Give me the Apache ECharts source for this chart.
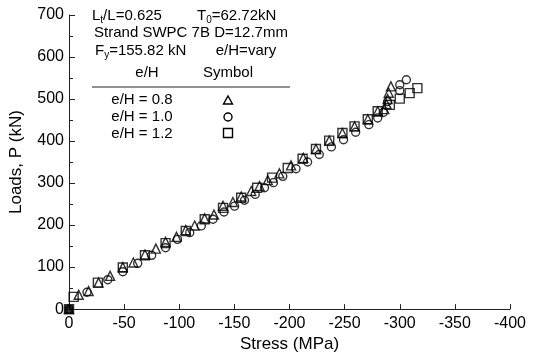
<!DOCTYPE html>
<html><head><meta charset="utf-8">
<script src="https://cdn.jsdelivr.net/npm/echarts@6/dist/echarts.min.js"></script>
<style>html,body{margin:0;padding:0;background:#fff}#c{width:533px;height:358px}</style>
</head><body><div id="c"></div>
<script>
const xTicks = [0, -50, -100, -150, -200, -250, -300, -350, -400];
const yTicks = [0, 100, 200, 300, 400, 500, 600, 700];

const triStress = [0, -8.8, -17.8, -26.8, -37.3, -48.8, -58.4, -68.9, -78.8, -87.6, -97.5, -105.9, -114, -123, -131.5, -139.7, -148.7, -156.2, -165.3, -172.8, -180.3, -190.8, -201.4, -212.5, -224, -236, -248, -259, -271, -280, -286, -288, -289, -290, -292];
const triLoad   = [0, 34, 43, 63, 79, 100, 111, 130, 144, 160, 172, 188, 199, 216, 225, 246, 255, 268, 281, 293, 307, 323, 342, 360, 381, 401, 419, 435, 452, 471, 476, 488, 500, 515, 530];

const cirStress = [0, -16.3, -35.2, -48.8, -62.3, -75, -87.6, -98.4, -109.5, -120, -130.6, -140.6, -150.2, -159.2, -168.9, -177.3, -185.4, -193.9, -205.9, -216.4, -227, -238, -249, -260, -272, -280, -285, -289, -300, -300, -306];
const cirLoad   = [0, 40, 70, 89, 109, 128, 146, 166, 182, 198, 214, 231, 245, 259, 273, 289, 301, 316, 334, 350, 368, 386, 403, 421, 439, 455, 468, 494, 520, 534, 546];

const sqrStress = [0, -4.2, -26.2, -48.8, -68.9, -87.6, -105.9, -123.1, -139.7, -156.2, -170.7, -184.2, -198.4, -211.9, -224, -236, -248, -259, -271, -280, -291, -300, -309, -316];
const sqrLoad   = [0, 29, 63, 99, 128, 157, 186, 214, 241, 265, 289, 313, 336, 358, 381, 401, 419, 435, 452, 471, 486, 501, 514, 526];

const originPoint = [[0, 0]];

const zip = (a, b) => a.map((v, i) => [v, b[i]]);
const F = 'Arial, "Liberation Sans", sans-serif';
const hollow = {color: 'rgba(0,0,0,0)', borderColor: '#000', borderWidth: 1.4};

const chart = echarts.init(document.getElementById('c'), null, {renderer: 'canvas'});
const T = 15;
const txt = (x, y, text, rich, align) => ({
  type: 'text', x: x, y: y,
  style: {text: text, font: T + 'px ' + F, fill: '#000', align: align || 'left', verticalAlign: 'middle', rich: rich}
});
const subRich = {
  a: {fontSize: T, fontFamily: F, lineHeight: 18, verticalAlign: 'middle'},
  s: {fontSize: 10, fontFamily: F, lineHeight: 10, verticalAlign: 'bottom'}
};

chart.setOption({
  animation: false,
  grid: {left: 67, right: 23, top: 15, bottom: 48},
  xAxis: {
    type: 'value', min: -400, max: 0, interval: 50, inverse: true,
    name: 'Stress (MPa)', nameLocation: 'middle', nameGap: 24,
    nameTextStyle: {fontSize: 17, fontFamily: F, color: '#000'},
    axisLine: {lineStyle: {color: '#222', width: 1}},
    axisTick: {inside: true, length: 5, lineStyle: {color: '#222'}},
    axisLabel: {fontSize: 16, fontFamily: F, color: '#000', margin: 6,
      customValues: xTicks},
    splitLine: {show: false}
  },
  yAxis: {
    type: 'value', min: 0, max: 700, interval: 100,
    name: 'Loads, P (kN)', nameLocation: 'middle', nameGap: 44,
    nameTextStyle: {fontSize: 17, fontFamily: F, color: '#000'},
    axisLine: {show: true, lineStyle: {color: '#222', width: 1}},
    axisTick: {inside: true, length: 6, lineStyle: {color: '#222'}},
    minorTick: {show: true, splitNumber: 2, length: 4, lineStyle: {color: '#222'}},
    axisLabel: {fontSize: 16, fontFamily: F, color: '#000', margin: 5},
    splitLine: {show: false}
  },
  series: [
    {name: 'e/H = 0.8', type: 'scatter', symbol: 'triangle', symbolSize: 9, clip: false,
     itemStyle: hollow, data: zip(triStress, triLoad), z: 3},
    {name: 'e/H = 1.0', type: 'scatter', symbol: 'circle', symbolSize: 8, clip: false,
     itemStyle: hollow, data: zip(cirStress, cirLoad), z: 2},
    {name: 'e/H = 1.2', type: 'scatter', symbol: 'rect', symbolSize: 9, clip: false,
     itemStyle: hollow, data: zip(sqrStress, sqrLoad), z: 4},
    {name: 'origin', type: 'scatter', symbol: 'rect', symbolSize: 8, clip: false,
     itemStyle: {color: '#000'}, data: originPoint, z: 5}
  ],
  graphic: [
    txt(92, 16, '{a|L}{s|t}{a|/L=0.625}', subRich),
    txt(197, 16, '{a|T}{s|0}{a|=62.72kN}', subRich),
    txt(191, 33, 'Strand SWPC 7B D=12.7mm', null, 'center'),
    txt(95, 51, '{a|F}{s|y}{a|=155.82 kN}', subRich),
    txt(246, 51, 'e/H=vary', null, 'center'),
    txt(147, 73, 'e/H', null, 'center'),
    txt(228, 73, 'Symbol', null, 'center'),
    {type: 'line', shape: {x1: 92, y1: 87, x2: 290, y2: 87}, style: {stroke: '#222', lineWidth: 1.2}},
    txt(142, 100, 'e/H = 0.8', null, 'center'),
    txt(142, 117, 'e/H = 1.0', null, 'center'),
    txt(142, 134, 'e/H = 1.2', null, 'center'),
    {type: 'polygon', shape: {points: [[228, 96], [232.5, 104], [223.5, 104]]}, style: {fill: 'none', stroke: '#000', lineWidth: 1.4}},
    {type: 'circle', shape: {cx: 228, cy: 117, r: 4}, style: {fill: 'none', stroke: '#000', lineWidth: 1.4}},
    {type: 'rect', shape: {x: 223.5, y: 128.5, width: 9, height: 9}, style: {fill: 'none', stroke: '#000', lineWidth: 1.4}}
  ]
});
</script></body></html>
